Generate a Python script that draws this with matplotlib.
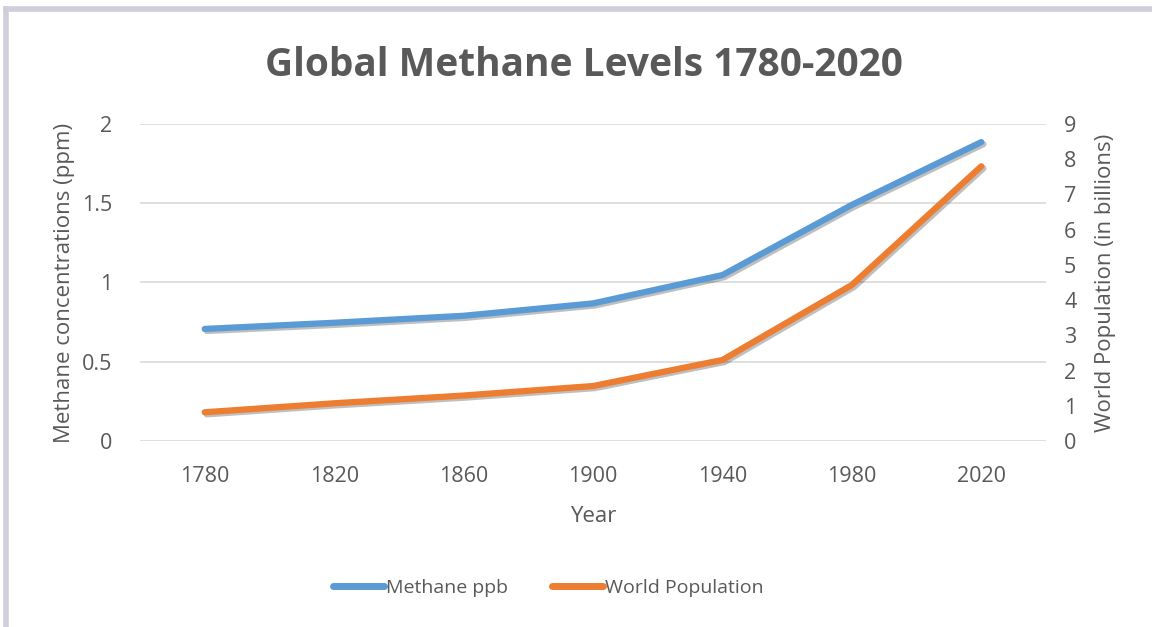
import numpy as np
import matplotlib.pyplot as plt
import matplotlib.patheffects as pe
from matplotlib.lines import Line2D

years = ['1780', '1820', '1860', '1900', '1940', '1980', '2020']
methane = [0.707, 0.746, 0.79, 0.868, 1.047, 1.49, 1.886]
population = [0.815, 1.07, 1.29, 1.56, 2.3, 4.43, 7.8]

plt.rcParams['font.family'] = ['Open Sans', 'DejaVu Sans']
txt = '#595959'
blue = '#5b9bd5'
orange = '#ed7d31'

fig = plt.figure(figsize=(11.52, 6.27), dpi=100)
ax = fig.add_axes([0.1215, 0.2967, 0.7865, 0.5055])
ax2 = ax.twinx()

x = np.arange(len(years))
shadow = [pe.SimpleLineShadow(offset=(1.5, -1.5), alpha=0.25, shadow_color='k'), pe.Normal()]
ax.plot(x, methane, color=blue, lw=4.5, solid_capstyle='round', path_effects=shadow, zorder=3)
ax2.plot(x, population, color=orange, lw=4.5, solid_capstyle='round', path_effects=shadow, zorder=3)

ax.set_xlim(-0.5, len(years) - 0.5)
ax.set_xticks(x)
ax.set_xticklabels(years)
ax.set_ylim(0, 2)
ax.set_yticks([0, 0.5, 1, 1.5, 2])
ax.set_yticklabels(['0', '0.5', '1', '1.5', '2'])
ax2.set_ylim(0, 9)
ax2.set_yticks(range(10))

ax.grid(axis='y', color='#d9d9d9', lw=1.2)
ax.set_axisbelow(True)
for a in (ax, ax2):
    for s in a.spines.values():
        s.set_visible(False)
    a.tick_params(length=0, labelsize=15.5, colors=txt)
ax.tick_params(axis='x', pad=18)
ax.tick_params(axis='y', pad=20)
ax2.tick_params(axis='y', pad=13)

ax.set_xlabel('Year', fontsize=16, color=txt, labelpad=14)
ax.set_ylabel('Methane concentrations (ppm)', fontsize=16, color=txt, labelpad=5)
ax2.set_ylabel('World Population (in billions)', fontsize=16, color=txt, labelpad=13)

fig.text(0.507, 0.896, 'Global Methane Levels 1780-2020', ha='center', va='center',
         fontsize=28, fontweight='bold', color=txt)

handles = [Line2D([], [], color=blue, lw=5, solid_capstyle='round'),
           Line2D([], [], color=orange, lw=5, solid_capstyle='round')]
fig.legend(handles, ['Methane ppb', 'World Population'], loc='center',
           bbox_to_anchor=(0.476, 0.062), ncol=2, frameon=False, fontsize=14,
           handlelength=2.6, handletextpad=0.1, columnspacing=2.3, labelcolor=txt)

# frame edges
fig.add_artist(Line2D([0.005, 0.005], [0, 0.985], color='#cfcfdc', lw=4, transform=fig.transFigure))
fig.add_artist(Line2D([0.005, 1], [0.985, 0.985], color='#cfcfdc', lw=4, transform=fig.transFigure))

fig.savefig('out.png', dpi=100)
